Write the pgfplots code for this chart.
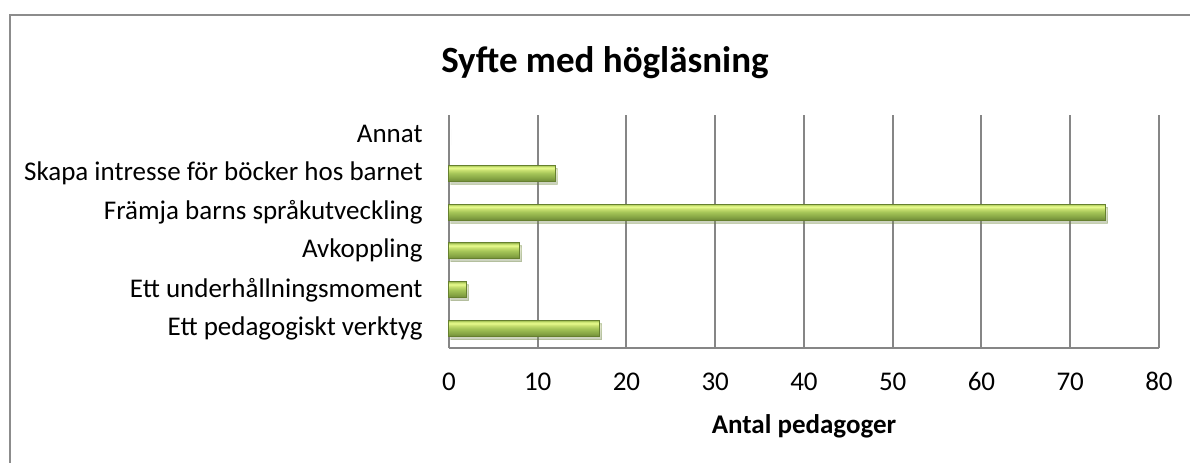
\documentclass[border=0pt]{standalone}
\usepackage{fontspec}
\setmainfont{Carlito}
\usepackage{pgfplots}
\pgfplotsset{compat=1.18}
\usetikzlibrary{shadows}

\definecolor{gridgray}{HTML}{868686}
\definecolor{framegray}{HTML}{8C8C8C}
\definecolor{barline}{HTML}{66802F}
\definecolor{gdark}{HTML}{6F8A38}
\definecolor{glow}{HTML}{86A544}
\definecolor{gmid}{HTML}{A5C558}
\definecolor{glight}{HTML}{C8E070}
\definecolor{ghigh}{HTML}{E6FA8C}
\definecolor{ghigh2}{HTML}{D5EC7C}
\definecolor{gedge}{HTML}{9DBB50}

% bar profile, bottom (25bp) to top (75bp)
\pgfdeclareverticalshading{barshade}{100bp}{
  color(0bp)=(gdark); color(25bp)=(gdark); color(35bp)=(glow);
  color(50bp)=(gmid); color(60bp)=(glight); color(66bp)=(ghigh);
  color(70bp)=(ghigh2); color(75bp)=(gedge); color(100bp)=(gedge)}

\pgfplotsset{
  greenbar/.style={xbar, bar width=8pt, bar shift=0pt, draw=barline,
    line width=0.5pt, shading=barshade,
    drop shadow={shadow xshift=1pt, shadow yshift=-1.5pt, opacity=0.22}},
}

\begin{document}
\begin{tikzpicture}
\begin{axis}[
  at={(0,0)}, anchor=south west,
  scale only axis,
  width=355pt, height=116.5pt,
  xmin=0, xmax=80,
  ymin=-0.5, ymax=5.5,
  xtick={0,10,...,80},
  ytick={0,1,2,3,4,5},
  yticklabels={Ett pedagogiskt verktyg, Ett underhållningsmoment, Avkoppling,
    Främja barns språkutveckling, Skapa intresse för böcker hos barnet, Annat},
  axis x line*=bottom, axis y line*=left,
  axis line style={gridgray, line width=1pt, -},
  major tick length=0pt,
  xmajorgrids,
  major grid style={gridgray, line width=1pt},
  /pgf/number format/assume math mode=true,
  tick label style={font=\fontsize{13.5}{16}\selectfont, inner sep=0pt},
  xticklabel style={anchor=base, yshift=-21pt},
  yticklabel style={anchor=east, xshift=-13pt},
  xlabel={Antal pedagoger},
  xlabel style={font=\fontsize{13.5}{16}\selectfont\bfseries, inner sep=0pt,
    at={(axis description cs:0.5,0)}, anchor=north, yshift=-33pt},
  every axis title shift=0pt,
  title={Syfte med högläsning},
  title style={font=\fontsize{18.5}{22}\selectfont\bfseries, inner sep=0pt,
    at={(axis description cs:0.2197,1.1845)}, anchor=base},
  clip=false,
]
\addplot[greenbar] coordinates {(17,0)}; % Ett pedagogiskt verktyg
\addplot[greenbar] coordinates {(2,1)};  % Ett underhållningsmoment
\addplot[greenbar] coordinates {(8,2)};  % Avkoppling
\addplot[greenbar] coordinates {(74,3)}; % Främja barns språkutveckling
\addplot[greenbar] coordinates {(12,4)}; % Skapa intresse för böcker hos barnet
\addplot[greenbar, draw=none, drop shadow={opacity=0}] coordinates {(0,5)}; % Annat
\end{axis}
% outer chart frame (only top and left edges fall inside the picture)
\draw[framegray, line width=1pt] (-219.5pt,-60pt) -- (-219.5pt,166.5pt) -- (375pt,166.5pt);
\pgfresetboundingbox
\useasboundingbox (-224.5pt,-57pt) rectangle (370.5pt,174pt);
\end{tikzpicture}
\end{document}
